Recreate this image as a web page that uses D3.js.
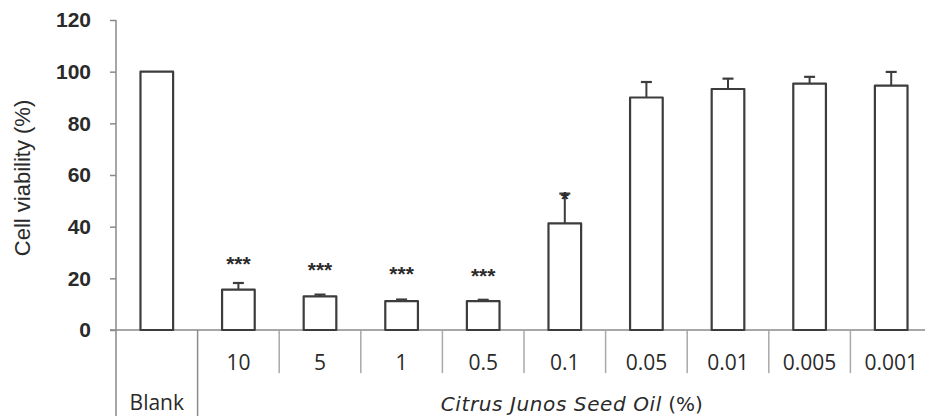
<!DOCTYPE html>
<html>
<head>
<meta charset="utf-8">
<script src="https://cdn.jsdelivr.net/npm/d3@7"></script>
<style>
  body { margin: 0; background: #fff; }
  svg { display: block; }
</style>
</head>
<body>
<div id="graf"></div>
<script>
// Viabilidad celular - aceite de semilla de Citrus junos

categorias = ['Blank', '10', '5', '1', '0.5', '0.1', '0.05', '0.01', '0.005', '0.001']
medias     = [100, 15.6, 13.0, 11.2, 11.2, 41.3, 90.0, 93.3, 95.4, 94.6]
errores    = [0, 2.6, 0.7, 0.6, 0.5, 11.5, 6.0, 4.0, 2.6, 5.3]
signif     = ['', '***', '***', '***', '***', '*', '', '', '', '']
nivelSig   = [null, 27.5, 25, 23.6, 23, 52.6, null, null, null, null]
yTicks     = [0, 20, 40, 60, 80, 100, 120]

ancho_total = 925
alto_total  = 416
margins = { top: 20, left: 116, right: -7, bottom: 86 }
ancho = ancho_total - margins.left - margins.right
alto  = alto_total - margins.top - margins.bottom

svg = d3.select('#graf').append('svg')
        .attr('width', ancho_total)
        .attr('height', alto_total)

g = svg.append('g')
       .attr('transform', `translate(${ margins.left }, ${ margins.top })`)

// Escaladores
x = d3.scaleBand()
      .domain(categorias)
      .range([0, ancho])
      .paddingInner(0.6)
      .paddingOuter(0.3)
y = d3.scaleLinear().domain([0, 120]).range([alto, 0])

colEje = '#8a8a8a'
colBar = '#3c3c3c'
colTxt = '#2a2a2a'

// Eje Y
yAxis = g.append('g')
         .call(d3.axisLeft(y).tickValues(yTicks).tickSize(6).tickPadding(19))
yAxis.select('.domain').remove()
yAxis.selectAll('line').attr('stroke', colEje).attr('stroke-width', 1.5)
yAxis.selectAll('text')
     .attr('fill', colTxt)
     .style('font-family', 'Liberation Sans, Arial, sans-serif')
     .style('font-size', '21px')
     .style('font-weight', 'bold')

g.append('line')
 .attr('x1', 0).attr('x2', 0)
 .attr('y1', 0).attr('y2', alto_total - margins.top)
 .attr('stroke', colEje).attr('stroke-width', 1.5)

// Eje X (línea base)
g.append('line')
 .attr('x1', -6).attr('x2', ancho)
 .attr('y1', y(0)).attr('y2', y(0))
 .attr('stroke', colEje).attr('stroke-width', 1.5)

// Tabla de categorías bajo el eje
borde = c => x(c) + x.bandwidth() / 2 - x.step() / 2
categorias.slice(1).forEach((c, i) => {
  g.append('line')
   .attr('x1', borde(c)).attr('x2', borde(c))
   .attr('y1', y(0))
   .attr('y2', i == 0 ? alto_total - margins.top : y(0) + 43)
   .attr('stroke', i == 0 ? colEje : '#a8a8a8')
   .attr('stroke-width', 1.5)
})

fuenteTabla = 'Open Sans, sans-serif'

g.selectAll('.cat')
 .data(categorias.slice(1))
 .enter().append('text')
 .attr('class', 'cat')
 .attr('x', d => x(d) + x.bandwidth() / 2)
 .attr('y', y(0) + 40)
 .attr('text-anchor', 'middle')
 .attr('fill', colTxt)
 .style('font-family', fuenteTabla)
 .style('font-size', '21px')
 .text(d => d)

g.append('text')
 .attr('x', x('Blank') + x.bandwidth() / 2)
 .attr('y', y(0) + 80)
 .attr('text-anchor', 'middle')
 .attr('fill', colTxt)
 .style('font-family', fuenteTabla)
 .style('font-size', '21px')
 .text('Blank')

etiqueta = g.append('text')
 .attr('x', (borde('10') + ancho) / 2 + 7)
 .attr('y', y(0) + 81)
 .attr('text-anchor', 'middle')
 .attr('fill', colTxt)
 .style('font-family', 'DejaVu Sans, sans-serif')
 .style('font-size', '20px')
etiqueta.append('tspan').style('font-style', 'italic').style('letter-spacing', '0.6px').text('Citrus Junos Seed Oil')
etiqueta.append('tspan').text(' (%)')

// Título eje Y
svg.append('text')
   .attr('transform', `translate(30, 178) rotate(-90)`)
   .attr('text-anchor', 'middle')
   .attr('fill', colTxt)
   .style('font-family', 'Liberation Sans, Arial, sans-serif')
   .style('font-size', '22px')
   .text('Cell viability (%)')

datos = categorias.map((c, i) => ({
  cat: c, media: medias[i], err: errores[i], sig: signif[i], nivel: nivelSig[i]
}))

// Barras de error (solo la mitad superior)
errG = g.selectAll('.err')
        .data(datos.filter(d => d.err > 0))
        .enter().append('g')
errG.append('line')
    .attr('x1', d => x(d.cat) + x.bandwidth() / 2)
    .attr('x2', d => x(d.cat) + x.bandwidth() / 2)
    .attr('y1', d => y(d.media))
    .attr('y2', d => y(d.media + d.err))
    .attr('stroke', colBar).attr('stroke-width', 2)
errG.append('line')
    .attr('x1', d => x(d.cat) + x.bandwidth() / 2 - 5.5)
    .attr('x2', d => x(d.cat) + x.bandwidth() / 2 + 5.5)
    .attr('y1', d => y(d.media + d.err))
    .attr('y2', d => y(d.media + d.err))
    .attr('stroke', colBar).attr('stroke-width', 2.2)

// Barras
g.selectAll('.bar')
 .data(datos)
 .enter().append('rect')
 .attr('class', 'bar')
 .attr('x', d => x(d.cat))
 .attr('width', x.bandwidth())
 .attr('y', d => y(d.media))
 .attr('height', d => y(0) - y(d.media))
 .attr('fill', '#fff')
 .attr('stroke', colBar)
 .attr('stroke-width', 2.2)
 .attr('stroke-linejoin', 'round')

// Asteriscos de significancia
g.selectAll('.sig')
 .data(datos.filter(d => d.sig))
 .enter().append('text')
 .attr('class', 'sig')
 .attr('x', d => x(d.cat) + x.bandwidth() / 2)
 .attr('y', d => y(d.nivel) + 12)
 .attr('text-anchor', 'middle')
 .attr('fill', colTxt)
 .style('font-family', 'Liberation Sans, Arial, sans-serif')
 .style('font-size', '21px')
 .style('font-weight', 'bold')
 .text(d => d.sig)
</script>
</body>
</html>
